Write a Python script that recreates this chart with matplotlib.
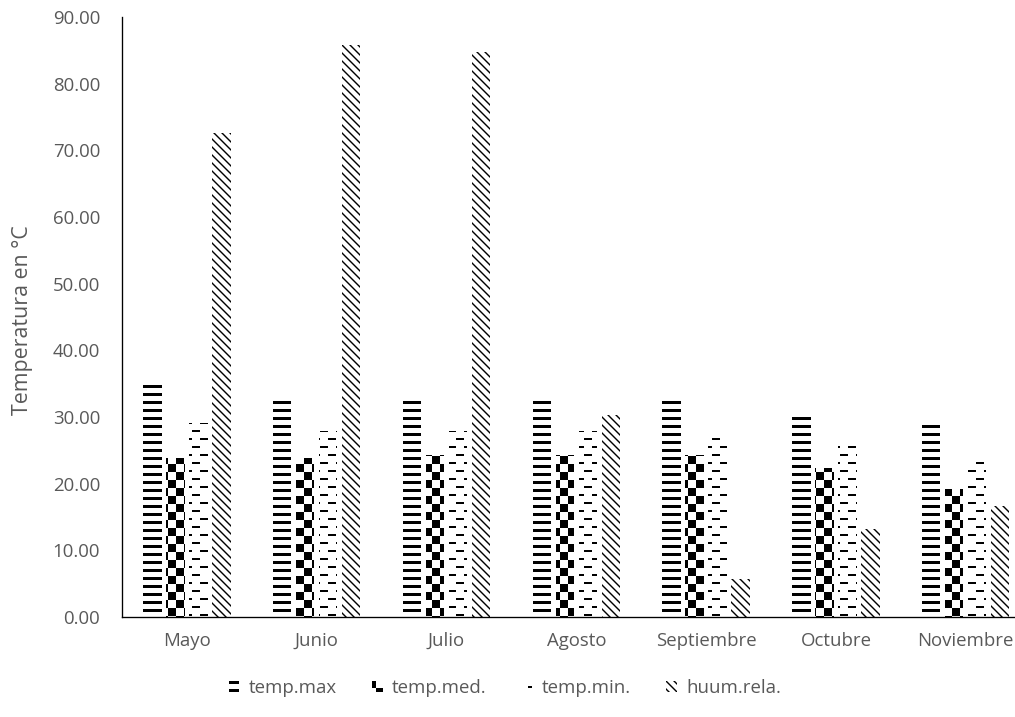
import numpy as np
import matplotlib
matplotlib.use("Agg")
import matplotlib.pyplot as plt
import matplotlib.hatch as mhatch
from matplotlib.path import Path

# ---- data -------------------------------------------------------------
months = ["Mayo", "Junio", "Julio", "Agosto", "Septiembre", "Octubre", "Noviembre"]
temp_max = [35.0, 32.7, 32.7, 32.7, 32.7, 30.3, 29.0]
temp_med = [23.8, 23.8, 24.3, 24.3, 24.3, 22.3, 19.2]
temp_min = [29.1, 27.9, 27.9, 27.9, 27.8, 26.4, 24.0]
huum_rela = [72.6, 85.8, 84.8, 30.3, 5.7, 13.2, 16.6]
series_labels = ["temp.max", "temp.med.", "temp.min.", "huum.rela."]
y_ticks = [0, 10, 20, 30, 40, 50, 60, 70, 80, 90]

# ---- pattern fills (one hatch tile = 96 px at 96 dpi) -----------------
DPI = 96
N = 12          # 8-px cells per tile
U = 1.0 / N
PX = 1.0 / 96


def _rect(x0, y0, x1, y1):
    return [(x0, y0), (x1, y0), (x1, y1), (x0, y1)]


def tile_polys(key):
    polys = []
    if key == "-":            # solid horizontal stripes
        for k in range(-1, N + 1):
            y = k * U + 4 * PX
            polys.append(_rect(-0.01, y, 1.01, y + 3 * PX))
    elif key == "x":          # large checkerboard
        for i in range(N):
            for j in range(N):
                if (i + j) % 2 == 0:
                    polys.append(_rect(i * U, j * U, (i + 1) * U, (j + 1) * U))
    elif key == ".":          # staggered dashed stripes
        for k in range(N):
            off = (k % 2) * U
            for m in range(-1, N // 2 + 1):
                x0 = off + 2 * m * U
                polys.append(_rect(x0, k * U, x0 + U, k * U + 2 * PX))
    elif key == "\\":         # downward diagonal
        w = 2 * PX
        y0, y1 = -0.05, 1.05
        for k in range(-2, 2 * N + 2):
            c = k * U
            polys.append([(c - y0, y0), (c + w - y0, y0),
                          (c + w - y1, y1), (c - y1, y1)])
    return polys


class TilePattern(mhatch.HatchPatternBase):
    def __init__(self, hatch, density):
        self.polys = tile_polys(hatch)
        self.num_vertices = 5 * len(self.polys)

    def set_vertices_and_codes(self, vertices, codes):
        for i, p in enumerate(self.polys):
            vertices[5 * i:5 * i + 4] = p
            vertices[5 * i + 4] = p[0]
            codes[5 * i] = Path.MOVETO
            codes[5 * i + 1:5 * i + 4] = Path.LINETO
            codes[5 * i + 4] = Path.CLOSEPOLY


mhatch._hatch_types[:] = [TilePattern]

plt.rcParams["font.family"] = ["Open Sans", "DejaVu Sans"]
plt.rcParams["hatch.linewidth"] = 0.0

TEXT = "#595959"
FS = 14

W, H = 1015, 717
fig = plt.figure(figsize=(W / DPI, H / DPI), dpi=DPI)
cat_w = 129.8
left_px, bottom_px, top_px = 122, 617, 17
ax = fig.add_axes([left_px / W, (H - bottom_px) / H,
                   7 * cat_w / W, (bottom_px - top_px) / H])

x = np.arange(len(months))
step = 23 / cat_w
bar_w = 18.5 / cat_w
series = [temp_max, temp_med, temp_min, huum_rela]
hatches = ["-", "x", ".", "\\"]
for i, (vals, lab, ht) in enumerate(zip(series, series_labels, hatches)):
    ax.bar(x + (i - 1.5) * step, vals, width=bar_w, facecolor="white",
           edgecolor="black", linewidth=0, hatch=ht, label=lab)

ax.set_xlim(-0.5, 6.5)
ax.set_ylim(0, 90)
ax.set_yticks(y_ticks)
ax.set_yticklabels([f"{v:.2f}" for v in y_ticks])
ax.set_xticks(x)
ax.set_xticklabels(months)
ax.tick_params(axis="both", length=0, labelsize=FS, colors=TEXT)
ax.tick_params(axis="y", pad=16.5)
ax.tick_params(axis="x", pad=11)
for s in ["top", "right"]:
    ax.spines[s].set_visible(False)
for s in ["left", "bottom"]:
    ax.spines[s].set_color("black")
    ax.spines[s].set_linewidth(1.0)

fig.text(23 / W, 1 - 320 / H, "Temperatura en °C", rotation=90,
         ha="center", va="center", fontsize=16, color=TEXT)

handles, labels = ax.get_legend_handles_labels()
fig.legend(handles, labels, loc="center", bbox_to_anchor=(505 / W, 1 - 688 / H),
           ncol=4, frameon=False, fontsize=FS, labelcolor=TEXT,
           handlelength=0.55, handleheight=0.55, handletextpad=0.5,
           columnspacing=1.9)

fig.savefig("out.png", dpi=DPI)
